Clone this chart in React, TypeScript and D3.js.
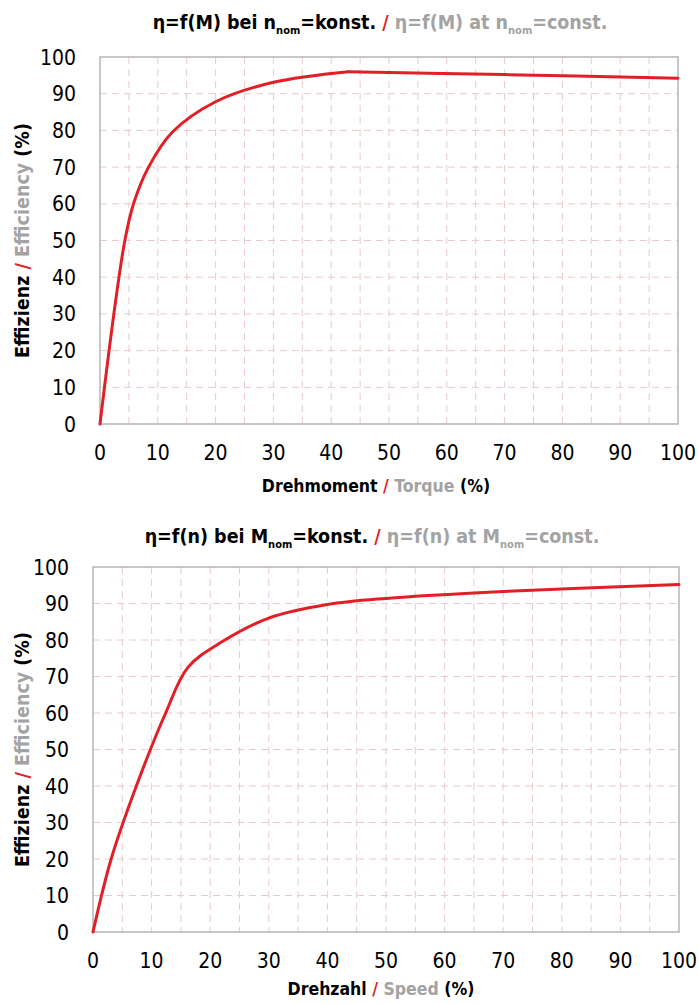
import React from 'react';
import * as d3 from 'd3';

// η = f(M) at nominal speed
const torque = [0, 2.4, 4.3, 5.8, 8.4, 12.5, 20, 30, 43, 70, 100];
const effTorque = [0, 30, 50, 60, 70, 79.5, 87.8, 93.1, 96, 95.2, 94.2];

// η = f(n) at nominal torque
const speed = [0, 3.1, 7.4, 12.4, 16.2, 22, 30, 40, 50, 70, 100];
const effSpeed = [0, 20, 40, 60, 72.5, 79.5, 86, 89.7, 91.4, 93.3, 95.2];

const yTicks = [0, 10, 20, 30, 40, 50, 60, 70, 80, 90, 100];
const xTicks = [0, 10, 20, 30, 40, 50, 60, 70, 80, 90, 100];
const xGrid = [5, 10, 15, 20, 25, 30, 35, 40, 45, 50, 55, 60, 65, 70, 75, 80, 85, 90, 95];

const RED = '#e01f26';
const GRAY = '#a3a3a3';
const FONT = '"Liberation Sans Narrow", "DejaVu Sans Condensed", sans-serif';

type Box = { left: number; right: number; top: number; bottom: number };

function Chart(props: {
  xs: number[];
  ys: number[];
  box: Box;
  sym: string;
  nomSym: string;
  titleX: number;
  titleY: number;
  xDe: string;
  xEn: string;
  xLabelX: number;
  xLabelY: number;
}) {
  const { xs, ys, box, sym, nomSym, titleX, titleY, xDe, xEn, xLabelX, xLabelY } = props;
  const x = d3.scaleLinear().domain([0, 100]).range([box.left, box.right]);
  const y = d3.scaleLinear().domain([0, 100]).range([box.bottom, box.top]);
  const line = d3
    .line<[number, number]>()
    .x((d) => x(d[0]))
    .y((d) => y(d[1]))
    .curve(d3.curveCatmullRom.alpha(0.5));
  const midY = (box.top + box.bottom) / 2;

  // rising part and the part after the peak are drawn as two pieces
  const pts = d3.zip(xs, ys) as [number, number][];
  const peak = d3.maxIndex(ys);
  const pieces = [pts.slice(0, peak + 1), pts.slice(peak)].filter((p) => p.length > 1);

  return (
    <g>
      {/* title */}
      <text x={titleX} y={titleY} textAnchor="middle" fontFamily={FONT} fontWeight="bold" fontSize={19.5} fill="#000">
        <tspan>{`η=f(${sym}) bei ${nomSym}`}</tspan>
        <tspan fontSize={11} dy={5}>nom</tspan>
        <tspan dy={-5}>=konst. </tspan>
        <tspan fill={RED}>/</tspan>
        <tspan fill={GRAY}>{` η=f(${sym}) at ${nomSym}`}</tspan>
        <tspan fill={GRAY} fontSize={11} dy={5}>nom</tspan>
        <tspan fill={GRAY} dy={-5}>=const.</tspan>
      </text>

      {/* grid */}
      {xGrid.map((t) => (
        <line key={'v' + t} x1={x(t)} x2={x(t)} y1={box.top} y2={box.bottom}
          stroke="#eacaca" strokeWidth={1} strokeDasharray="7,5" />
      ))}
      {yTicks.slice(1, -1).map((t) => (
        <line key={'h' + t} x1={box.left} x2={box.right} y1={y(t)} y2={y(t)}
          stroke="#eacaca" strokeWidth={1} strokeDasharray="7,5" />
      ))}
      <rect x={box.left} y={box.top} width={box.right - box.left} height={box.bottom - box.top}
        fill="none" stroke="#b5b5b5" strokeWidth={1.5} />

      {/* curve */}
      {pieces.map((p, i) => (
        <path key={i} d={line(p) || ''} fill="none" stroke={RED} strokeWidth={3}
          strokeLinejoin="round" strokeLinecap="round" />
      ))}

      {/* y ticks */}
      {yTicks.map((t) => (
        <text key={'yl' + t} x={box.left - 24} y={y(t)} dy="0.36em" textAnchor="end"
          fontFamily={FONT} fontSize={21} fill="#000">{t}</text>
      ))}
      {/* x ticks */}
      {xTicks.map((t) => (
        <text key={'xl' + t} x={x(t)} y={box.bottom + 36} textAnchor="middle"
          fontFamily={FONT} fontSize={21} fill="#000">{t}</text>
      ))}

      {/* x label */}
      <text x={xLabelX} y={xLabelY} textAnchor="middle" fontFamily={FONT} fontWeight="bold" fontSize={17.5} fill="#000">
        <tspan>{xDe} </tspan>
        <tspan fill={RED}>/</tspan>
        <tspan fill={GRAY}> {xEn}</tspan>
        <tspan> (%)</tspan>
      </text>

      {/* y label */}
      <text transform={`translate(29,${midY}) rotate(-90)`} textAnchor="middle"
        fontFamily={FONT} fontWeight="bold" fontSize={19.5} fill="#000">
        <tspan>Effizienz </tspan>
        <tspan fill={RED}>/</tspan>
        <tspan fill={GRAY}> Efficiency</tspan>
        <tspan> (%)</tspan>
      </text>
    </g>
  );
}

export default function App() {
  return (
    <svg width={699} height={1004} style={{ position: 'absolute', left: 0, top: 0, background: '#fff' }}>
      <rect width={699} height={1004} fill="#fff" />
      <Chart xs={torque} ys={effTorque} box={{ left: 100, right: 678, top: 57, bottom: 424 }}
        sym="M" nomSym="n" titleX={380} titleY={29}
        xDe="Drehmoment" xEn="Torque" xLabelX={376} xLabelY={492} />
      <Chart xs={speed} ys={effSpeed} box={{ left: 93, right: 679, top: 567, bottom: 932 }}
        sym="n" nomSym="M" titleX={372} titleY={543}
        xDe="Drehzahl" xEn="Speed" xLabelX={381} xLabelY={995} />
    </svg>
  );
}
